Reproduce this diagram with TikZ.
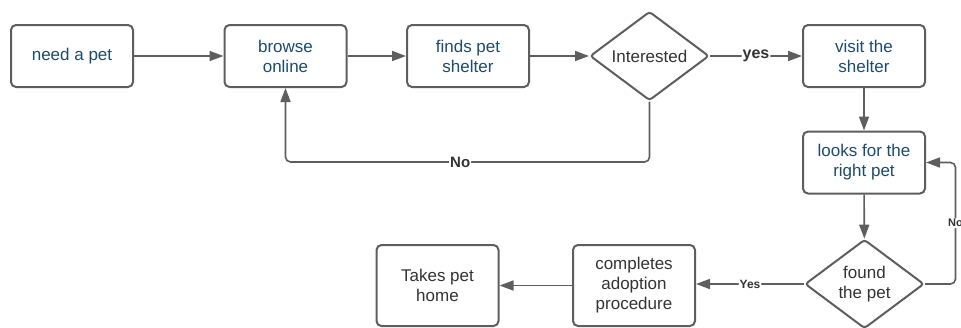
\documentclass[tikz,border=0pt]{standalone}
\usepackage{fontspec}
\setmainfont{Liberation Sans}
\usetikzlibrary{shapes.geometric,arrows.meta}
\definecolor{edge}{HTML}{5E5E5E}
\definecolor{bluetext}{HTML}{1B4B6E}
\definecolor{graytext}{HTML}{333333}
\begin{document}
\begin{tikzpicture}[x=1pt,y=-1pt,
  base/.style={draw=edge, line width=2pt, align=center, inner sep=0pt,
    font=\fontsize{17}{20}\selectfont},
  box/.style={base, rounded corners=5pt, minimum width=122pt, minimum height=62pt, text=bluetext},
  tallbox/.style={base, rounded corners=5pt, minimum width=122pt, minimum height=81pt, text=graytext},
  decision/.style={base, diamond, aspect=1.32, rounded corners=3pt,
    minimum width=119pt, minimum height=89pt, text=graytext},
  flow/.style={draw=edge, line width=1.6pt, rounded corners=5pt,
    -{Triangle[length=14pt,width=10pt]}},
  lbl/.style={fill=white, inner xsep=1pt, inner ysep=1pt, text=graytext, font=\bfseries\fontsize{#1}{#1}\selectfont},
  lbl/.default=16]
\useasboundingbox (0,0) rectangle (961,327);

% steps of the process
\node[box] (need)   at (72,56)    {need a pet};
\node[box] (browse) at (285.5,56) {browse\\online};
\node[box] (finds)  at (468,56)   {finds pet\\shelter};
\node[decision] (interest) at (649.5,56) {Interested};
\node[box] (visit)  at (864,56)   {visit the\\shelter};
\node[box] (looks)  at (864,162.5) {looks for the\\right pet};
\node[decision] (found) at (864.5,284) {found\\the pet};
\node[tallbox] (adopt) at (634,285.5) {completes\\adoption\\procedure};
\node[tallbox] (home)  at (437.5,285.5) {Takes pet\\home};

% helper points for the loops
\coordinate (nobot) at (649.5,162);
\coordinate (noright) at (955.5,284);

% connectors
\draw[flow] (need) -- (browse);
\draw[flow] (browse) -- (finds);
\draw[flow] (finds) -- (interest);
\draw[flow] (interest) -- node[lbl] {yes} (visit);
\draw[flow] (visit) -- (looks);
\draw[flow] (interest.south) -- (nobot) -- node[lbl=15, pos=0.52] {No} (nobot -| browse) -- (browse.south);
\draw[flow] (looks) -- (found);
\draw[flow] (found.east) -- (noright) -- node[lbl=11, pos=0.5] {No} (noright |- looks) -- (looks.east);
\draw[flow] (found.west) -- node[lbl=12, pos=0.5] {Yes} (adopt.east |- found.west);
\draw[flow] (adopt) -- (home);
\end{tikzpicture}
\end{document}
